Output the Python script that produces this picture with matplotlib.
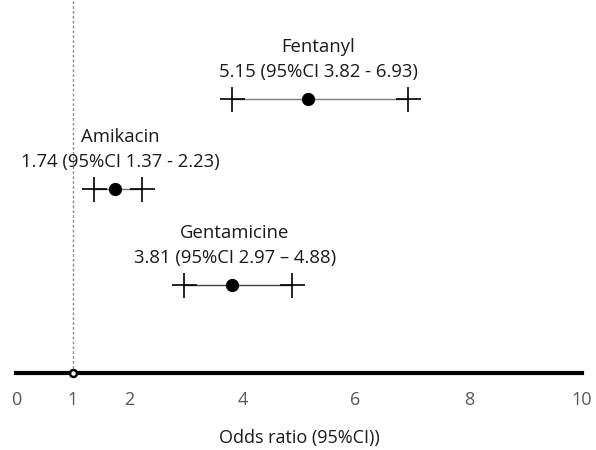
import matplotlib.pyplot as plt

plt.rcParams['font.family'] = ['Open Sans', 'DejaVu Sans']

drugs = ['Fentanyl', 'Amikacin', 'Gentamicine']
odds = [5.15, 1.74, 3.81]
ci_low = [3.82, 1.37, 2.97]
ci_high = [6.93, 2.23, 4.88]
ci_text = ['5.15 (95%CI 3.82 - 6.93)', '1.74 (95%CI 1.37 - 2.23)', '3.81 (95%CI 2.97 \u2013 4.88)']
ticks = [0, 1, 2, 4, 6, 8, 10]

# layout: row heights and label centres (x in data units)
rows = [2.74, 1.84, 0.88]
label_x = [5.34, 1.84, 3.87]
line_col = ['#7f7f7f', '#6f6f6f', '#404040']

fig = plt.figure(figsize=(5.96, 4.5), dpi=100)
ax = fig.add_axes([0, 0, 1, 1])
ax.set_xlim(-0.283, 10.247)
ax.set_ylim(-0.77, 3.73)

for s in ['top', 'right', 'left']:
    ax.spines[s].set_visible(False)
ax.spines['bottom'].set_position(('data', 0))
ax.spines['bottom'].set_bounds(0, 10)
ax.spines['bottom'].set_linewidth(3)
ax.set_yticks([])
ax.set_xticks(ticks)
ax.set_xticklabels([str(t) for t in ticks])
ax.tick_params(axis='x', length=0, pad=13, labelsize=13, labelcolor='#595959')

# reference line at OR = 1
ax.plot([1, 1], [0, 3.73], color='#8c8c8c', linestyle=(0, (2, 1.5)), linewidth=1, zorder=1)
ax.plot([1], [0], 'o', markersize=5, markerfacecolor='white', markeredgecolor='black',
        markeredgewidth=1.8, zorder=4, clip_on=False)

for i in range(len(drugs)):
    y = rows[i]
    ax.plot([ci_low[i], ci_high[i]], [y, y], color=line_col[i], linewidth=1, zorder=2)
    ax.plot([ci_low[i], ci_high[i]], [y, y], '+', color='black', markersize=18,
            markeredgewidth=1.2, zorder=3)
    ax.plot([odds[i]], [y], 'o', color='black', markersize=8.5, zorder=4)
    ax.text(label_x[i], y + 0.52, drugs[i], ha='center', va='center', fontsize=13.3, color='#1a1a1a')
    ax.text(label_x[i], y + 0.27, ci_text[i], ha='center', va='center', fontsize=13.3, color='#1a1a1a')

ax.text(5.0, -0.65, 'Odds ratio (95%CI))', ha='center', va='center', fontsize=13, color='#1a1a1a')

fig.savefig('out.png', dpi=100)
